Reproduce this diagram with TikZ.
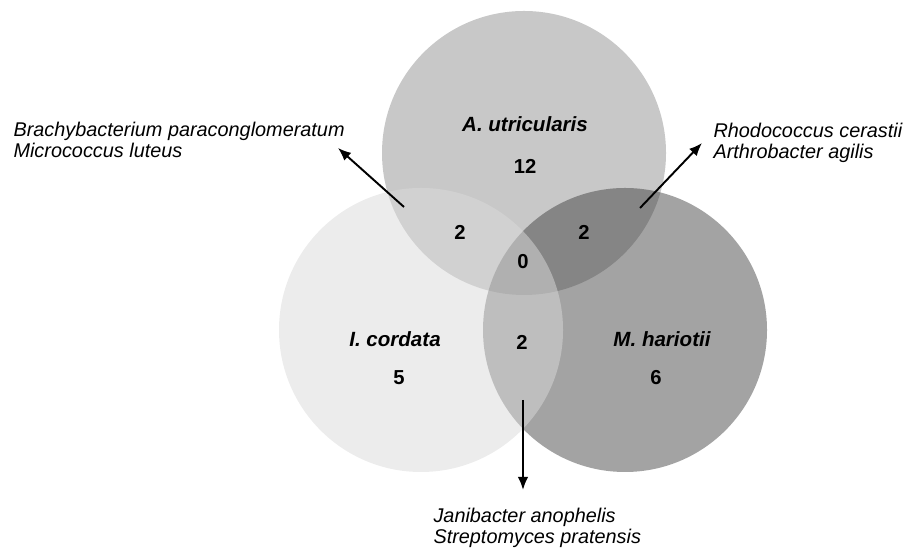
\documentclass[tikz,border=0pt]{standalone}
\usepackage{fontspec}
\setmainfont{Liberation Sans}
\usetikzlibrary{arrows.meta}
\definecolor{setA}{gray}{0.784}
\definecolor{setM}{gray}{0.207}
\definecolor{setI}{gray}{0.855}
\tikzset{
  every picture/.style={line width=0.6pt},
  setname/.style={font=\fontsize{11.7}{13}\selectfont\bfseries\itshape,inner sep=0},
  cnt/.style={font=\fontsize{11.5}{13}\selectfont\bfseries,inner sep=0},
  taxa/.style={font=\fontsize{11.3}{11.8}\selectfont\itshape,align=left,inner sep=0,anchor=north west},
  flow/.style={-{Latex[length=2.6mm,width=2.1mm]},line width=1.1pt},
}

\begin{document}
\begin{tikzpicture}[x=1cm,y=1cm]
\useasboundingbox (0,0) rectangle (18.34,11.04);
% the three sets
\coordinate (cA) at (10.48,7.98);
\coordinate (cI) at (8.42,4.44);
\coordinate (cM) at (12.50,4.44);
\fill[setA] (cA) circle (2.84);
\fill[setM,fill opacity=0.455] (cM) circle (2.84);
\fill[setI,fill opacity=0.511] (cI) circle (2.84);
% set names and counts
\node[setname] (nA) at (10.50,8.56) {A. utricularis};
\node[cnt] (kA) at (10.50,7.72) {12};
\node[setname] (nI) at (7.90,4.26) {I. cordata};
\node[cnt] (kI) at (7.98,3.48) {5};
\node[setname] (nM) at (13.24,4.26) {M. hariotii};
\node[cnt] (kM) at (13.12,3.48) {6};
\node[cnt] (kAI) at (9.20,6.40) {2};
\node[cnt] (kAM) at (11.68,6.40) {2};
\node[cnt] (kIM) at (10.44,4.20) {2};
\node[cnt] (kAIM) at (10.46,5.80) {0};
% shared taxa
\node[taxa] (tAI) at (0.26,8.60) {Brachybacterium paraconglomeratum\\Micrococcus luteus};
\node[taxa] (tAM) at (14.26,8.58) {Rhodococcus cerastii\\Arthrobacter agilis};
\node[taxa] (tIM) at (8.66,0.88) {Janibacter anophelis\\Streptomyces pratensis};
\coordinate (fAI) at (8.08,6.90);
\coordinate (hAI) at (6.76,8.08);
\coordinate (fAM) at (12.80,6.88);
\coordinate (hAM) at (14.04,8.18);
\coordinate (fIM) at (10.46,3.04);
\coordinate (hIM) at (10.46,1.24);
\draw[flow] (fAI) -- (hAI);
\draw[flow] (fAM) -- (hAM);
\draw[flow] (fIM) -- (hIM);
\end{tikzpicture}
\end{document}
